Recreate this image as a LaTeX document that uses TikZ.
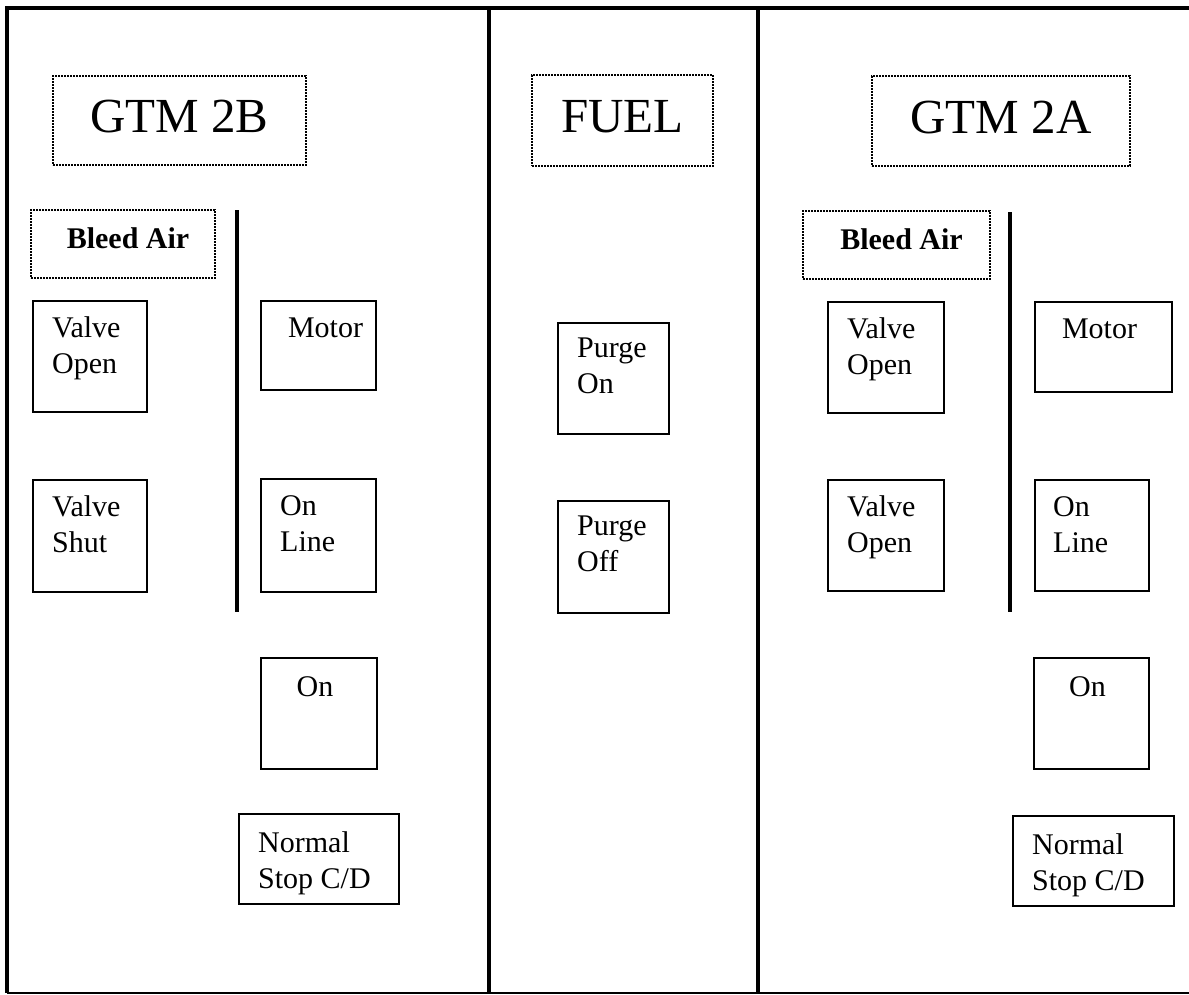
\documentclass[tikz,border=0pt]{standalone}
\usepackage{fontspec}
\setmainfont{Liberation Serif}
\usetikzlibrary{calc}
\tikzset{
  btn/.style={draw, line width=2pt, inner sep=0pt},
  dotbox/.style={draw, line width=1.6pt, dash pattern=on 1.6pt off 1.4pt, inner sep=0pt},
  lbl/.style={anchor=north west, inner sep=0pt, align=left, font=\fontsize{30}{36}\selectfont},
  clbl/.style={anchor=north, inner sep=0pt, align=center, font=\fontsize{30}{36}\selectfont},
  bigtxt/.style={font=\fontsize{49}{58}\selectfont, text height=34pt, text depth=10pt},
  bleedtxt/.style={font=\bfseries\fontsize{30}{36}\selectfont, text height=20pt, text depth=12pt},
  framestroke/.style={line width=3.5pt},
  divider/.style={line width=3.5pt},
}
\newcommand{\fl}{\rule{0pt}{24pt}}
\begin{document}
\begin{tikzpicture}[x=1pt, y=-1pt]
\useasboundingbox (0,0) rectangle (1189,994);

% outer frame and panel dividers
\coordinate (tl) at (7,8);
\coordinate (tr) at (1189,8);
\coordinate (bl) at (7,992.5);
\coordinate (br) at (1189,992.5);
\coordinate (d1t) at (489,8);
\coordinate (d1b) at (489,992.5);
\coordinate (d2t) at (758,8);
\coordinate (d2b) at (758,992.5);
\draw[framestroke] (tr) -- (tl) -- (bl);
\draw[line width=2pt] (bl) -- (br);
\draw[divider] (d1t) -- (d1b);
\draw[divider] (d2t) -- (d2b);

% ---------- GTM 2B panel ----------
\node[dotbox, bigtxt, minimum width=253pt, minimum height=89pt] (gtmb) at (179.5,120.5) {GTM 2B};
\node[dotbox, bleedtxt, minimum width=184pt, minimum height=68pt] (bab) at (123,244) {\hspace*{10pt}Bleed Air};
\coordinate (sbt) at (237,210);
\coordinate (sbb) at (237,612);
\draw[divider] (sbt) -- (sbb);

\node[btn, anchor=north west, minimum width=114pt, minimum height=111pt] (vob) at (32,300) {};
\node[lbl] (vobt) at ($(vob.north west)+(20,13)$) {\fl Valve\\Open};
\node[btn, anchor=north west, minimum width=114pt, minimum height=112pt] (vsb) at (32,479) {};
\node[lbl] (vsbt) at ($(vsb.north west)+(20,13)$) {\fl Valve\\Shut};
\node[btn, anchor=north west, minimum width=115pt, minimum height=89pt] (mob) at (260,300) {};
\node[clbl] (mobt) at ($(mob.north)+(7,13)$) {\fl Motor};
\node[btn, anchor=north west, minimum width=115pt, minimum height=113pt] (olb) at (260,478) {};
\node[lbl] (olbt) at ($(olb.north west)+(20,13)$) {\fl On\\Line};
\node[btn, anchor=north west, minimum width=116pt, minimum height=111pt] (onb) at (260,657) {};
\node[clbl] (onbt) at ($(onb.north)+(-4,15)$) {\fl On};
\node[btn, anchor=north west, minimum width=160pt, minimum height=90pt] (nsb) at (238,813) {};
\node[lbl] (nsbt) at ($(nsb.north west)+(20,15)$) {\fl Normal\\Stop C/D};

% ---------- FUEL panel ----------
\node[dotbox, bigtxt, minimum width=181pt, minimum height=91pt] (fuel) at (622.5,120.5) {FUEL};
\node[btn, anchor=north west, minimum width=111pt, minimum height=111pt] (pon) at (557,322) {};
\node[lbl] (pont) at ($(pon.north west)+(20,11)$) {\fl Purge\\On};
\node[btn, anchor=north west, minimum width=111pt, minimum height=112pt] (poff) at (557,500) {};
\node[lbl] (pofft) at ($(poff.north west)+(20,11)$) {\fl Purge\\Off};

% ---------- GTM 2A panel ----------
\node[dotbox, bigtxt, minimum width=258pt, minimum height=90pt] (gtma) at (1001,121) {GTM 2A};
\node[dotbox, bleedtxt, minimum width=187pt, minimum height=68pt] (baa) at (896.5,245) {\hspace*{10pt}Bleed Air};
\coordinate (sat) at (1010,212);
\coordinate (sab) at (1010,612);
\draw[divider] (sat) -- (sab);

\node[btn, anchor=north west, minimum width=116pt, minimum height=111pt] (voa) at (827,301) {};
\node[lbl] (voat) at ($(voa.north west)+(20,13)$) {\fl Valve\\Open};
\node[btn, anchor=north west, minimum width=116pt, minimum height=111pt] (vob2) at (827,479) {};
\node[lbl] (vob2t) at ($(vob2.north west)+(20,13)$) {\fl Valve\\Open};
\node[btn, anchor=north west, minimum width=137pt, minimum height=90pt] (moa) at (1034,301) {};
\node[clbl] (moat) at ($(moa.north)+(-4,13)$) {\fl Motor};
\node[btn, anchor=north west, minimum width=114pt, minimum height=111pt] (ola) at (1034,479) {};
\node[lbl] (olat) at ($(ola.north west)+(19,13)$) {\fl On\\Line};
\node[btn, anchor=north west, minimum width=115pt, minimum height=111pt] (ona) at (1033,657) {};
\node[clbl] (onat) at ($(ona.north)+(-4,15)$) {\fl On};
\node[btn, anchor=north west, minimum width=161pt, minimum height=90pt] (nsa) at (1012,815) {};
\node[lbl] (nsat) at ($(nsa.north west)+(20,15)$) {\fl Normal\\Stop C/D};
\end{tikzpicture}
\end{document}
